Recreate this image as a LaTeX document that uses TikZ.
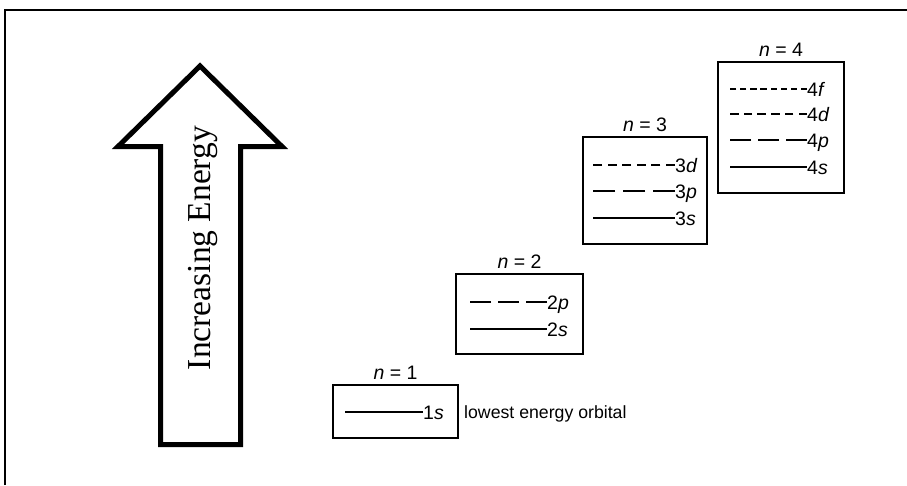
\documentclass[tikz,border=0pt]{standalone}
\usepackage{fontspec}
\setsansfont{Liberation Sans}
\newfontfamily\energyfont{Liberation Serif}
\usetikzlibrary{positioning}
\tikzset{
  lvlbox/.style={draw, line width=1.8pt, inner sep=0pt},
  lvltitle/.style={font=\sffamily\fontsize{19.5}{22}\selectfont, inner sep=1pt},
  orb/.style={font=\sffamily\fontsize{19.5}{22}\selectfont, inner sep=0pt, anchor=west, text height=14pt, text depth=0pt},
  shortdash/.style={line width=1.6pt, dash pattern=on 8.5pt off 5.2pt},
  longdash/.style={line width=1.8pt, dash pattern=on 21pt off 7pt},
  densedash/.style={line width=1.8pt, dash pattern=on 6.2pt off 3.9pt},
}
\begin{document}
\begin{tikzpicture}[x=1pt, y=-1pt]
    \useasboundingbox (0,0) rectangle (907,485);
    %Frame
    \draw[line width=2pt] (5,485) -- (5,10) -- (907,10);
    %Arrow
    \draw[line width=5pt, line join=miter] (200,66) -- (282,146.5) -- (240.5,146.5) -- (240.5,444.5)
        -- (160.5,444.5) -- (160.5,146.5) -- (118,146.5) -- cycle;
    \node[rotate=90, font=\energyfont\fontsize{33.5}{36}\selectfont] (energy) at (203,248) {Increasing Energy};
    %n = 1
    \node[lvlbox, minimum width=125pt, minimum height=53pt] (box1) at (395.5,411.5) {};
    \node[lvltitle, above=3pt of box1] (t1) {\textit{n} = 1};
    \node[orb] (l1s) at (423,412) {1\textit{s}};
    \draw[line width=2.6pt] (345,412) -- (l1s.west);
    \node[font=\sffamily\fontsize{17.7}{20}\selectfont, anchor=west, inner sep=0pt, text height=12.9pt, text depth=0pt] (low) at (464,412) {lowest energy orbital};
    %n = 2
    \node[lvlbox, minimum width=127pt, minimum height=80pt] (box2) at (519.5,314) {};
    \node[lvltitle, above=3pt of box2] (t2) {\textit{n} = 2};
    \node[orb] (l2p) at (547,302) {2\textit{p}};
    \node[orb] (l2s) at (547,329) {2\textit{s}};
    \draw[longdash] (l2p.west) -- (470,302);
    \draw[line width=1.4pt] (470,329) -- (l2s.west);
    %n = 3
    \node[lvlbox, minimum width=124pt, minimum height=107pt] (box3) at (645,190.5) {};
    \node[lvltitle, above=3pt of box3] (t3) {\textit{n} = 3};
    \node[orb] (l3d) at (675,165) {3\textit{d}};
    \node[orb] (l3p) at (675,191) {3\textit{p}};
    \node[orb] (l3s) at (675,218) {3\textit{s}};
    \draw[shortdash, dash pattern=on 9pt off 5.6pt] (l3d.west) -- (593,165);
    \draw[longdash, line width=2.4pt, dash pattern=on 22pt off 8pt] (l3p.west) -- (593,191);
    \draw[line width=1.6pt] (593,218) -- (l3s.west);
    %n = 4
    \node[lvlbox, minimum width=126pt, minimum height=131pt] (box4) at (781,127.5) {};
    \node[lvltitle, above=3pt of box4] (t4) {\textit{n} = 4};
    \node[orb] (l4f) at (807,89) {4\textit{f}};
    \node[orb] (l4d) at (807,114) {4\textit{d}};
    \node[orb] (l4p) at (807,140) {4\textit{p}};
    \node[orb] (l4s) at (807,167) {4\textit{s}};
    \draw[densedash] (l4f.west) -- (730,89);
    \draw[shortdash] (l4d.west) -- (730,114);
    \draw[longdash] (l4p.west) -- (730,140);
    \draw[line width=1.6pt] (730,167) -- (l4s.west);
\end{tikzpicture}
\end{document}
